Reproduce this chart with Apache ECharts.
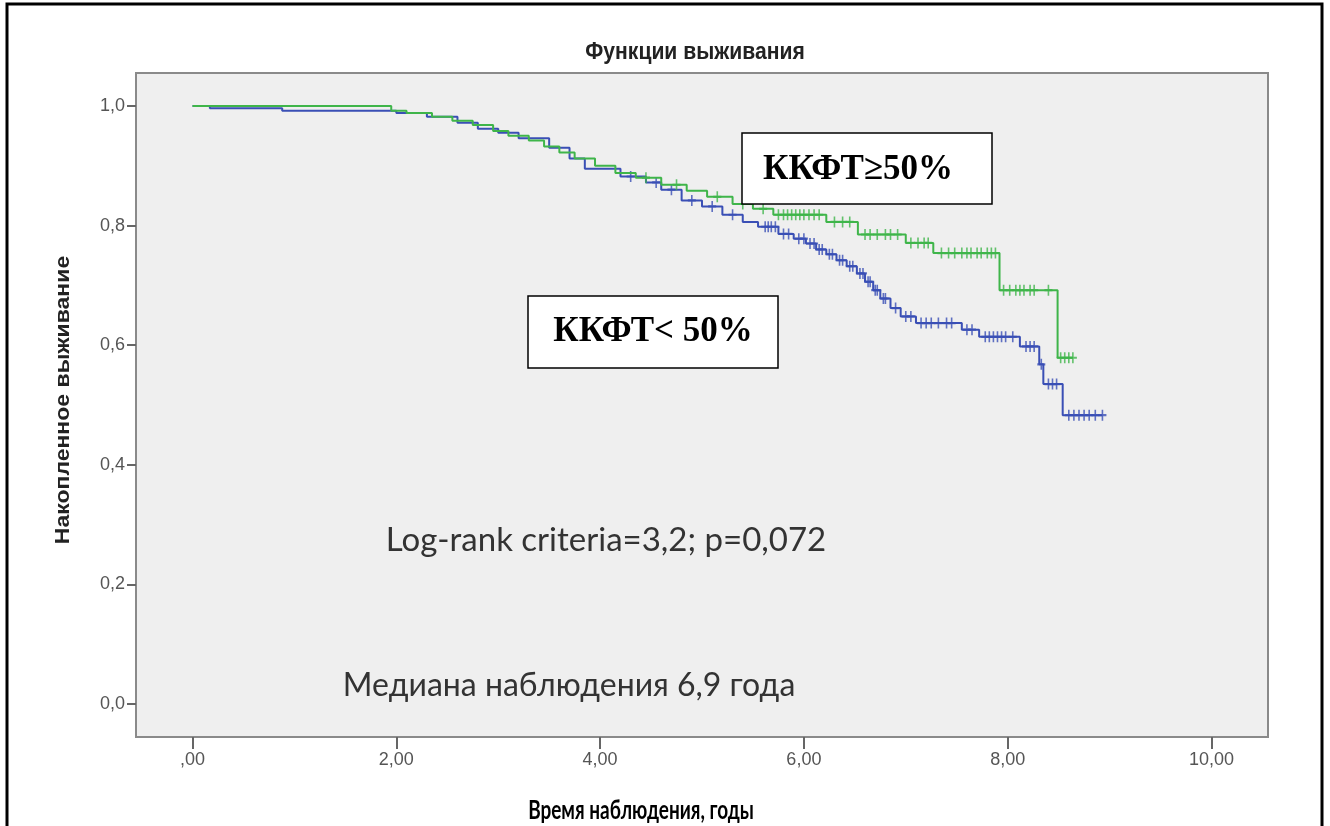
<!DOCTYPE html>
<html>
<head>
<meta charset="utf-8">
<script src="https://cdn.jsdelivr.net/npm/echarts@6/dist/echarts.min.js"></script>
<style>
html,body{margin:0;padding:0;background:#fff;}
#chart{width:1330px;height:826px;}
</style>
</head>
<body>
<div id="chart"></div>
<script>
// ---- Data ----
const chartTitle = 'Функции выживания';
const yAxisTitle = 'Накопленное выживание';
const xAxisTitle = 'Время наблюдения, годы';
const xTickValues = [0, 2, 4, 6, 8, 10];
const xTickLabels = [',00', '2,00', '4,00', '6,00', '8,00', '10,00'];
const yTickValues = [0, 0.2, 0.4, 0.6, 0.8, 1.0];
const yTickLabels = ['0,0', '0,2', '0,4', '0,6', '0,8', '1,0'];

// Group KKFT >= 50% (green)
const greenTimes = [0, 1.95, 2.1, 2.35, 2.55, 2.75, 2.95, 3.1, 3.3, 3.45, 3.6, 3.75, 3.95, 4.15, 4.35, 4.6, 4.85, 5.05, 5.3, 5.5, 5.7, 6.22, 6.53, 7.0, 7.27, 7.92, 8.49];
const greenSurv  = [1.0, 0.992, 0.988, 0.982, 0.975, 0.968, 0.958, 0.950, 0.942, 0.932, 0.922, 0.912, 0.900, 0.888, 0.880, 0.868, 0.858, 0.848, 0.836, 0.828, 0.818, 0.806, 0.785, 0.771, 0.754, 0.692, 0.579];
const greenEnd = 8.64;
const greenCensored = [4.45, 4.75, 5.15, 5.4, 5.6, 5.75, 5.8, 5.84, 5.88, 5.92, 5.96, 6.0, 6.05, 6.1, 6.15, 6.3, 6.38, 6.45, 6.6, 6.65, 6.72, 6.8, 6.85, 6.92, 7.05, 7.12, 7.18, 7.22, 7.35, 7.42, 7.48, 7.55, 7.6, 7.64, 7.7, 7.74, 7.8, 7.84, 7.88, 7.96, 8.02, 8.08, 8.12, 8.16, 8.22, 8.26, 8.4, 8.52, 8.56, 8.6, 8.64];

// Group KKFT < 50% (blue)
const blueTimes = [0, 0.17, 0.88, 2.0, 2.3, 2.6, 2.8, 3.0, 3.2, 3.5, 3.7, 3.85, 4.2, 4.45, 4.6, 4.8, 5.0, 5.2, 5.4, 5.55, 5.75, 5.9, 6.02, 6.12, 6.22, 6.32, 6.42, 6.52, 6.6, 6.68, 6.75, 6.85, 6.95, 7.1, 7.55, 7.72, 8.12, 8.31, 8.35, 8.54];
const blueSurv  = [1.0, 0.996, 0.992, 0.988, 0.982, 0.972, 0.962, 0.955, 0.946, 0.930, 0.912, 0.895, 0.882, 0.872, 0.860, 0.842, 0.832, 0.818, 0.806, 0.798, 0.786, 0.778, 0.770, 0.760, 0.752, 0.742, 0.732, 0.720, 0.706, 0.692, 0.678, 0.662, 0.648, 0.637, 0.626, 0.614, 0.598, 0.568, 0.535, 0.483];
const blueEnd = 8.93;
const blueCensored = [4.3, 4.55, 4.7, 4.9, 5.1, 5.3, 5.62, 5.65, 5.68, 5.72, 5.8, 5.85, 5.95, 6.0, 6.06, 6.1, 6.15, 6.18, 6.25, 6.28, 6.35, 6.38, 6.45, 6.48, 6.55, 6.58, 6.63, 6.65, 6.7, 6.72, 6.78, 6.8, 6.9, 7.0, 7.05, 7.15, 7.2, 7.25, 7.32, 7.4, 7.45, 7.6, 7.65, 7.78, 7.82, 7.86, 7.9, 7.94, 7.98, 8.05, 8.18, 8.22, 8.26, 8.33, 8.4, 8.44, 8.48, 8.6, 8.65, 8.7, 8.75, 8.8, 8.86, 8.93];

const labelHigh = 'ККФТ≥50%';
const labelLow = 'ККФТ< 50%';
const noteLogRank = 'Log-rank criteria=3,2; p=0,072';
const noteMedian = 'Медиана наблюдения 6,9 года';

// ---- Helpers ----
function curve(times, surv, end) {
  const d = times.map((t, i) => [t, surv[i]]);
  d.push([end, surv[surv.length - 1]]);
  return d;
}
function levelAt(times, surv, t) {
  let s = surv[0];
  for (let i = 0; i < times.length; i++) { if (times[i] <= t) s = surv[i]; }
  return s;
}
function marks(times, surv, cens) {
  return cens.map(t => [t, levelAt(times, surv, t)]);
}

const GREEN = '#3fb54a';
const BLUE = '#3a4fb5';
const PLUS = 'path://M-1.2,-6H1.2V-1.2H6V1.2H1.2V6H-1.2V1.2H-6V-1.2H-1.2Z';
const TICKFONT = 'Liberation Sans, Arial, sans-serif';

const chart = echarts.init(document.getElementById('chart'), null, {renderer: 'canvas'});
chart.setOption({
  animation: false,
  backgroundColor: '#ffffff',
  grid: {
    left: 136, right: 62, top: 73, bottom: 89,
    show: true, backgroundColor: '#efefef', borderColor: '#8a8a8a', borderWidth: 2
  },
  xAxis: {
    type: 'value', min: -0.555, max: 10.555,
    splitLine: {show: false},
    axisLine: {show: true, onZero: false, lineStyle: {color: '#8a8a8a', width: 2}},
    axisTick: {show: true, length: 12, customValues: xTickValues, lineStyle: {color: '#666', width: 2}},
    axisLabel: {
      customValues: xTickValues, margin: 14, color: '#555',
      fontFamily: TICKFONT, fontSize: 18,
      formatter: v => { const i = xTickValues.findIndex(x => Math.abs(x - v) < 1e-6); return i >= 0 ? xTickLabels[i] : ''; }
    }
  },
  yAxis: {
    type: 'value', min: -0.055, max: 1.055,
    splitLine: {show: false},
    axisLine: {show: true, onZero: false, lineStyle: {color: '#8a8a8a', width: 2}},
    axisTick: {show: true, length: 9, customValues: yTickValues, lineStyle: {color: '#666', width: 2}},
    axisLabel: {
      customValues: yTickValues, margin: 11, color: '#555',
      fontFamily: TICKFONT, fontSize: 18,
      formatter: v => { const i = yTickValues.findIndex(x => Math.abs(x - v) < 1e-6); return i >= 0 ? yTickLabels[i] : ''; }
    }
  },
  series: [
    {type: 'line', step: 'end', data: curve(blueTimes, blueSurv, blueEnd), showSymbol: false,
     lineStyle: {color: BLUE, width: 2}, z: 2},
    {type: 'scatter', data: marks(blueTimes, blueSurv, blueCensored), symbol: PLUS, symbolSize: [8, 11],
     itemStyle: {color: BLUE}, z: 3},
    {type: 'line', step: 'end', data: curve(greenTimes, greenSurv, greenEnd), showSymbol: false,
     lineStyle: {color: GREEN, width: 2}, z: 4},
    {type: 'scatter', data: marks(greenTimes, greenSurv, greenCensored), symbol: PLUS, symbolSize: [8, 11],
     itemStyle: {color: GREEN}, z: 5}
  ],
  graphic: [
    {type: 'rect', shape: {x: 7, y: 4, width: 1315, height: 900}, style: {fill: 'none', stroke: '#000', lineWidth: 3}, z: 100},
    {type: 'text', x: 695, y: 52, scaleX: 0.88, style: {text: chartTitle, fill: '#222', font: 'bold 24px "Liberation Sans", Arial, sans-serif', textAlign: 'center', textVerticalAlign: 'middle'}},
    {type: 'text', x: 63, y: 400, rotation: Math.PI / 2, scaleY: 0.88, style: {text: yAxisTitle, fill: '#222', font: 'bold 23px "Liberation Sans", Arial, sans-serif', textAlign: 'center', textVerticalAlign: 'middle'}},
    {type: 'text', x: 641, y: 811, scaleX: 0.73, style: {text: xAxisTitle, fill: '#000', font: 'bold 26px Lato, "Open Sans", sans-serif', textAlign: 'center', textVerticalAlign: 'middle'}},
    {type: 'rect', shape: {x: 742, y: 133, width: 250, height: 71}, style: {fill: '#fff', stroke: '#000', lineWidth: 1.5}, z: 50},
    {type: 'text', x: 858, y: 170, style: {text: labelHigh, fill: '#000', font: 'bold 35px "Liberation Serif", "Times New Roman", serif', textAlign: 'center', textVerticalAlign: 'middle'}, z: 51},
    {type: 'rect', shape: {x: 528, y: 296, width: 250, height: 72}, style: {fill: '#fff', stroke: '#000', lineWidth: 1.5}, z: 50},
    {type: 'text', x: 653, y: 332, style: {text: labelLow, fill: '#000', font: 'bold 35px "Liberation Serif", "Times New Roman", serif', textAlign: 'center', textVerticalAlign: 'middle'}, z: 51},
    {type: 'text', x: 606, y: 540, style: {text: noteLogRank, fill: '#333', font: '33px Lato, "Open Sans", sans-serif', textAlign: 'center', textVerticalAlign: 'middle'}, z: 51},
    {type: 'text', x: 569, y: 686, style: {text: noteMedian, fill: '#333', font: '32px Lato, "Open Sans", sans-serif', textAlign: 'center', textVerticalAlign: 'middle'}, z: 51}
  ]
});
</script>
</body>
</html>
